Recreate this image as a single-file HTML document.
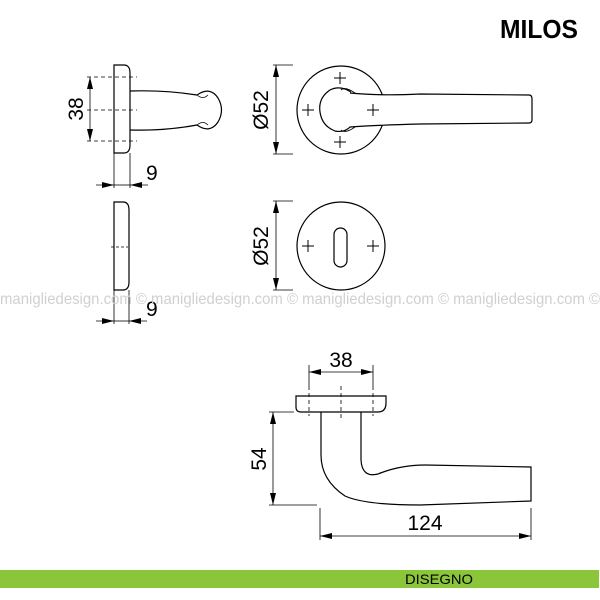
<!DOCTYPE html>
<html><head><meta charset="utf-8"><style>
html,body{margin:0;padding:0;background:#fff;width:600px;height:600px;overflow:hidden}
svg{display:block}
text{font-family:"Liberation Sans",sans-serif}
</style></head><body>
<svg width="600" height="600" viewBox="0 0 600 600" xmlns="http://www.w3.org/2000/svg">
<defs>
<marker id="a" viewBox="0 0 12 6" refX="12" refY="3" markerWidth="12" markerHeight="6" markerUnits="userSpaceOnUse" orient="auto-start-reverse"><path d="M0,0L12,3L0,6z" fill="#000"/></marker>
</defs>
<g fill="none" stroke="#000" stroke-width="1.2">
<path d="M114,65 H124 Q130,65 130,73 V145 Q130,153 124,153 H114 Z"/>
<path d="M130,91 Q165,90 197,95 Q210,86 218,98 Q225,110 218,122 Q210,134 197,125 Q165,131 130,130"/>
<path d="M197,95 Q203,100 208,95 M197,125 Q203,120 208,125" stroke-width="0.8"/>
<path d="M87,77 H137 M87,110 H137 M87,141 H137" stroke-dasharray="4,3" stroke-width="0.8"/>
<line x1="90" y1="77" x2="90" y2="141" stroke-width="0.8" marker-start="url(#a)" marker-end="url(#a)"/>
<path d="M114,153 V188 M130,153 V188" stroke-width="0.8"/>
<line x1="96" y1="185" x2="114" y2="185" stroke-width="0.8" marker-end="url(#a)"/>
<line x1="148" y1="185" x2="130" y2="185" stroke-width="0.8" marker-end="url(#a)"/>
<line x1="114" y1="185" x2="130" y2="185" stroke-width="0.8"/>
<path d="M114,202 H123 Q129,202 129,210 V282 Q129,290 123,290 H114 Z"/>
<path d="M111,247 H128" stroke-dasharray="3,2" stroke-width="0.8"/>
<path d="M114,290 V324 M129,290 V324" stroke-width="0.8"/>
<line x1="96" y1="321" x2="114" y2="321" stroke-width="0.8" marker-end="url(#a)"/>
<line x1="147" y1="321" x2="129" y2="321" stroke-width="0.8" marker-end="url(#a)"/>
<line x1="114" y1="321" x2="129" y2="321" stroke-width="0.8"/>
<circle cx="341" cy="110" r="44"/>
<path d="M351,92 Q340,85 330,90 Q318,98 320,112 Q322,126 335,131 Q345,133 351,126" fill="#fff"/>
<path d="M350,93 Q380,96 420,94 L529,95 Q532,95 532,99 V120 Q532,123 529,123 L420,124 Q380,125 350,127" fill="#fff"/>
<path d="M341,90 Q345,86 355,93 M341,130 Q345,134 355,127" stroke-width="0.8"/>
<g stroke-width="1"><path d="M334,78h12M340,72v12M334,142h12M340,136v12M302,110h12M308,104v12M367,110h12M373,104v12"/></g>
<path d="M273,65 H293 M273,154 H293" stroke-width="0.8"/>
<line x1="276" y1="65" x2="276" y2="154" stroke-width="0.8" marker-start="url(#a)" marker-end="url(#a)"/>
<circle cx="341" cy="246" r="44"/>
<rect x="334" y="228" width="13" height="39" rx="6.5"/>
<g stroke-width="1"><path d="M302,246h12M308,240v12M367,246h12M373,240v12"/></g>
<path d="M273,201 H293 M273,290 H293" stroke-width="0.8"/>
<line x1="276" y1="201" x2="276" y2="290" stroke-width="0.8" marker-start="url(#a)" marker-end="url(#a)"/>
<path d="M296,396 H386 V403 Q386,412 378,412 H301 Q296,412 296,407 Z"/>
<path d="M321,412 V455 Q321,480 345,496 Q365,505 420,505 L531,501 V467 L425,465 Q400,465 378,474 Q362,478 361,460 V412"/>
<path d="M309,386 V416 M341,386 V418 M373,386 V416" stroke-dasharray="4,3" stroke-width="0.8"/>
<path d="M309,365 V386 M373,365 V386" stroke-width="0.8"/>
<line x1="309" y1="372" x2="373" y2="372" stroke-width="0.8" marker-start="url(#a)" marker-end="url(#a)"/>
<path d="M269,412 H294 M269,505 H317" stroke-width="0.8"/>
<line x1="273" y1="412" x2="273" y2="505" stroke-width="0.8" marker-start="url(#a)" marker-end="url(#a)"/>
<path d="M320,508 V540 M531,508 V540" stroke-width="0.8"/>
<line x1="320" y1="536" x2="531" y2="536" stroke-width="0.8" marker-start="url(#a)" marker-end="url(#a)"/>
</g>
<g font-size="21" fill="#000">
<text x="0" y="0" transform="translate(83,109) rotate(-90)" text-anchor="middle">38</text>
<text x="146" y="180">9</text>
<text x="146" y="316">9</text>
<text x="0" y="0" transform="translate(268,110) rotate(-90)" text-anchor="middle">Ø52</text>
<text x="0" y="0" transform="translate(268,246) rotate(-90)" text-anchor="middle">Ø52</text>
<text x="341" y="367" text-anchor="middle">38</text>
<text x="0" y="0" transform="translate(266,459) rotate(-90)" text-anchor="middle">54</text>
<text x="425" y="530" text-anchor="middle">124</text>
</g>
<text x="300" y="304" text-anchor="middle" font-size="16" fill="#d0d0d0" textLength="600" lengthAdjust="spacingAndGlyphs">maniglie​design.com © maniglie​design.com © maniglie​design.com © maniglie​design.com ©</text>
<text x="578" y="38" text-anchor="end" font-size="26" font-weight="bold" fill="#000" textLength="78" lengthAdjust="spacingAndGlyphs">MILOS</text>
<rect x="0" y="570" width="599" height="18" fill="#8bc53a"/>
<text x="405" y="584" font-size="14" fill="#000" textLength="68" lengthAdjust="spacingAndGlyphs">DISEGNO</text>
</svg>
</body></html>
